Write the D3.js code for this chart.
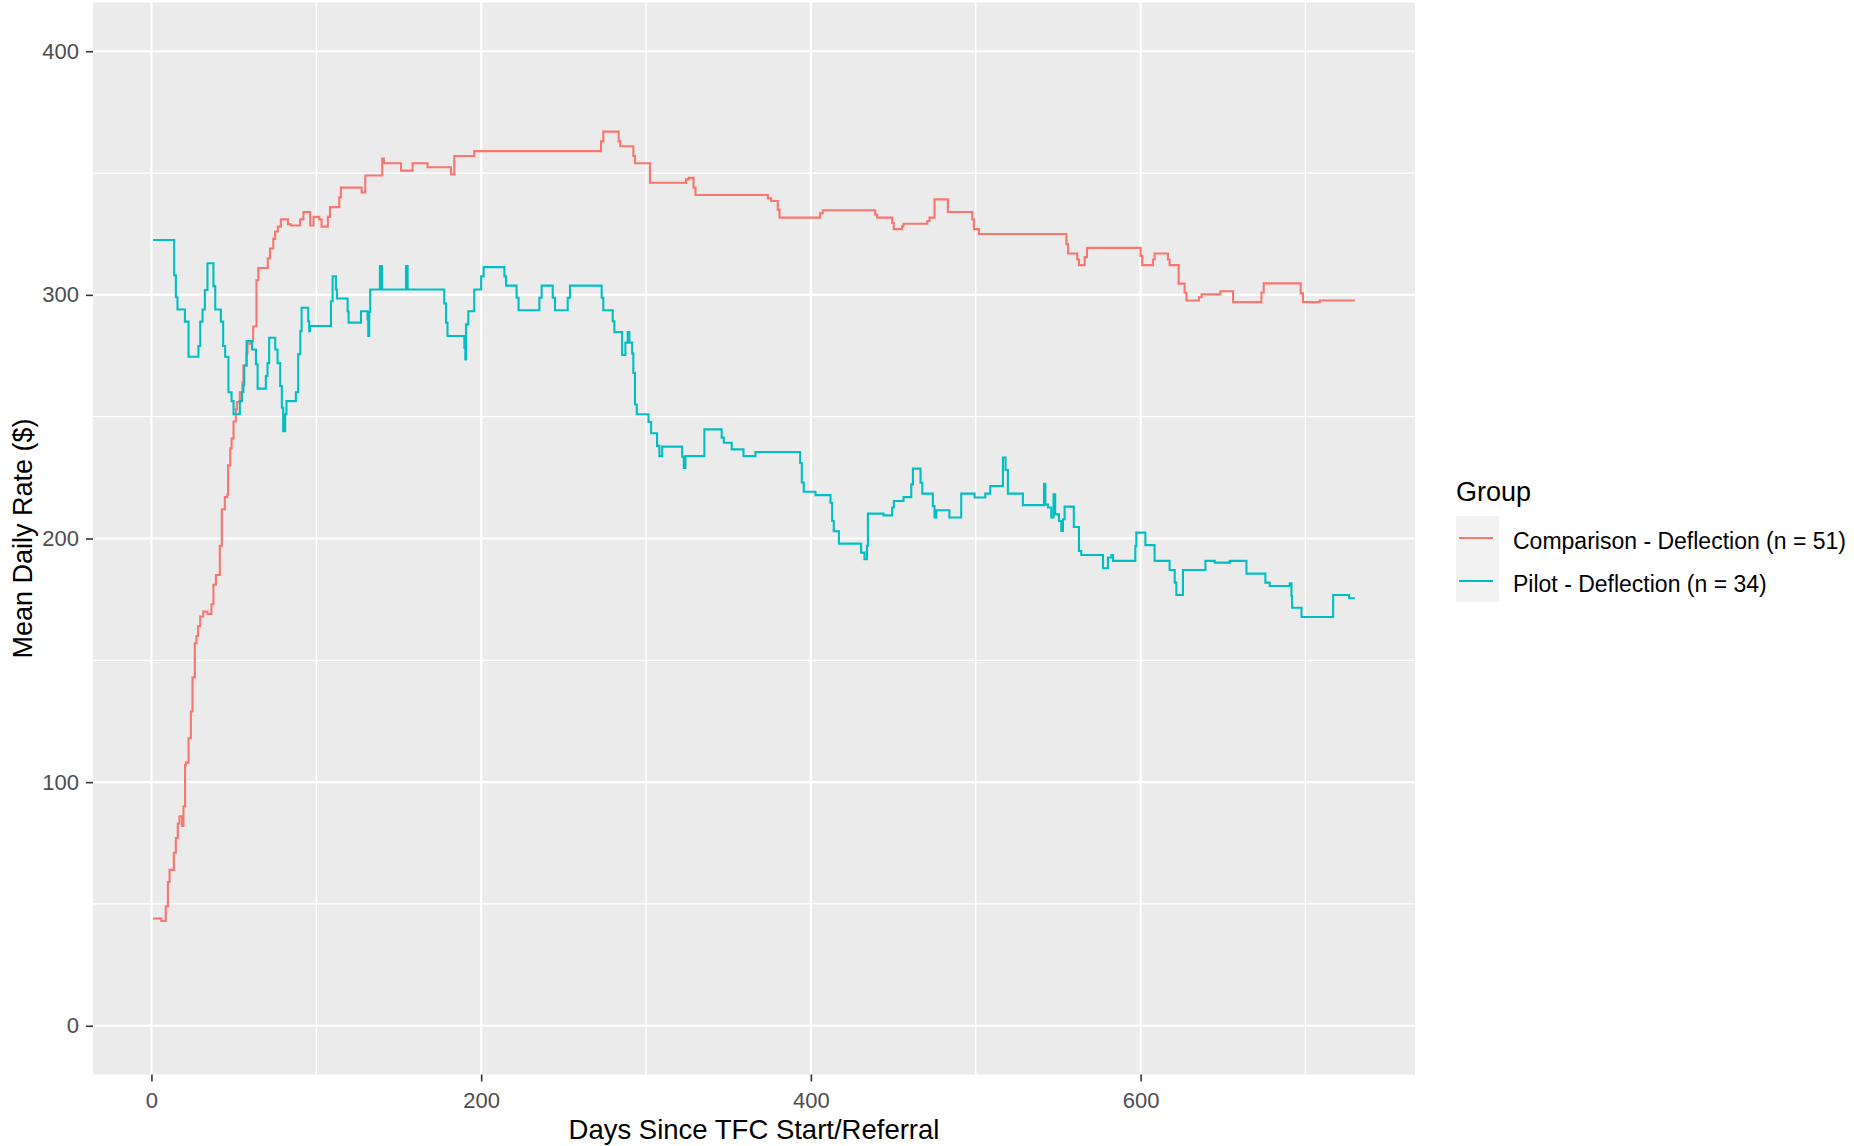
<!DOCTYPE html>
<html>
<head>
<meta charset="utf-8">
<script src="https://cdn.jsdelivr.net/npm/d3@7"></script>
<style>
  html, body { margin: 0; padding: 0; background: #fff; }
  svg { display: block; font-family: "Liberation Sans", Arial, sans-serif; }
</style>
</head>
<body>
<div id="chart"></div>
<script>
// Mean daily rate by days since TFC start/referral, step lines per group.

const GROUPS = ['Comparison - Deflection (n = 51)', 'Pilot - Deflection (n = 34)'];
const GROUP_COLORS = ['#F8766D', '#00BFC4'];

// [day, mean daily rate] at each change point (step holds until next day listed)
const comparisonSteps = [
  [1, 44], [6, 43], [8.7, 49], [10, 59], [11, 64], [13.6, 71], [14.8, 77], [16, 83],
  [17, 86], [18.6, 82], [19.4, 90], [20.4, 107], [20.9, 108], [22.5, 118], [23.9, 129],
  [24.9, 143], [26.3, 157], [27.3, 160], [28.3, 164], [29.6, 168], [31.4, 170], [34, 169],
  [36.4, 173], [37.6, 181], [39.1, 185], [41.5, 197], [42.7, 212], [44.5, 217], [46.1, 218],
  [46.5, 230], [47.8, 237], [48.6, 241], [49.8, 248], [51.2, 253], [51.8, 256], [53.6, 260],
  [55.2, 264], [55.8, 271], [57.7, 276], [58.3, 280], [60.7, 281], [61.7, 287], [63.7, 306],
  [64.8, 311], [70.6, 315], [71.9, 319], [73.9, 323], [75, 326], [76.7, 328], [78.5, 331],
  [82.8, 329], [84.6, 328.5], [90.2, 331], [92.2, 334], [96.3, 328.5], [98.3, 332],
  [101.8, 331], [103.2, 328], [107, 332], [108.3, 336], [113.9, 340], [114.9, 344],
  [127.5, 342], [129.7, 349], [140, 356], [141, 354], [151.4, 351], [158.4, 354],
  [167.5, 352.4], [181.7, 349.4], [183.7, 357], [195.8, 359], [272.7, 363], [274.1, 367],
  [283.4, 363], [284.4, 361], [292.3, 357], [293.3, 354], [302.4, 346], [324.3, 347.4],
  [325.9, 348], [328.8, 344], [330, 341], [373.9, 339.6], [375.9, 338.5], [379.9, 335],
  [381, 331.7], [405.6, 333.5], [407.2, 334.7], [439, 333], [440.2, 331.7], [449.3, 329.6],
  [450.3, 327], [455.4, 328.2], [456.2, 329.2], [470.6, 330.3], [472, 331.7], [475, 339.2],
  [483.1, 334], [497.9, 331], [498.9, 327], [501.9, 325], [555, 320.8], [556, 317],
  [561.6, 314.5], [562.6, 312.2], [566.1, 315.5], [567.5, 319.3], [600, 316], [601, 312.2],
  [607.5, 314.5], [608.5, 317], [616.6, 314.5], [617.6, 312.2], [623.1, 304.6],
  [626.7, 301], [627.8, 297.7], [635.4, 299], [637, 300.2], [648.4, 301.5], [656.1, 297],
  [673.3, 301], [674.7, 304.7], [697.1, 300.6], [698.5, 297], [708.7, 297.7], [730, 297.7]
];

const pilotSteps = [
  [1, 322.5], [13.8, 308], [14.8, 299], [15.8, 294], [20.3, 289], [22.5, 274.6],
  [28.5, 279], [29.6, 289], [31, 294], [32.4, 302], [34, 313], [37.6, 303.6], [38.7, 294],
  [42.1, 289], [43.5, 279], [44.7, 274.6], [46.7, 260], [48.6, 256.4], [49.8, 251],
  [53.6, 256.4], [54.9, 260], [55.8, 263], [56.3, 271], [57.7, 281], [61, 277.6],
  [63.4, 271.5], [64.4, 261.5], [69.4, 266.7], [70.4, 272], [71.4, 282.4], [75.1, 277.6],
  [76.5, 272], [78.1, 262.6], [79.1, 253.7], [79.9, 244], [81.1, 251], [81.9, 256.4],
  [87.6, 260], [89, 275.6], [90.3, 285.1], [91.1, 294.7], [95.1, 289.2], [95.7, 285.1],
  [96.1, 287.2], [108.9, 297.4], [109.9, 307.6], [111.9, 302.2], [112.5, 298.5],
  [119, 293.3], [119.6, 288.6], [127.1, 293.3], [131.1, 289.9], [131.5, 283.1],
  [132.1, 293], [132.7, 302.2], [138.6, 311.8], [139.8, 302.2], [154.4, 311.8],
  [155.4, 302.2], [177.6, 296.5], [178.7, 288.6], [179.6, 283.1], [189.8, 278.3],
  [190.4, 273.5], [190.8, 287.9], [192.2, 293.3], [195.8, 302.2], [200, 307.6],
  [201.5, 311.4], [214.1, 307.6], [215.1, 303.8], [221.5, 298.8], [222.7, 293.7],
  [235.3, 298.8], [236.7, 303.8], [243.4, 298.8], [244.8, 293.7], [252.5, 298.8],
  [253.9, 303.8], [273.1, 298.8], [274.1, 293.7], [279.8, 289.2], [280.8, 284.7],
  [285.5, 275.3], [287.5, 280.4], [288.9, 284.7], [289.9, 280.4], [291.6, 276],
  [292.3, 268], [293.3, 255], [294.4, 251], [301.5, 247.8], [303.1, 243.2], [306.7, 238],
  [308.1, 233.8], [309.8, 237.7], [321.9, 233.6], [322.9, 229], [323.9, 233.8],
  [335.4, 244.8], [345.9, 241.4], [347.2, 239.3], [352, 236.6], [359.1, 233.8],
  [366.4, 235.5], [393.5, 231], [394.5, 223], [395.7, 219.2], [402.8, 217.8],
  [411.9, 214.7], [412.9, 207.2], [413.9, 203], [417, 197.9], [430.5, 194.2],
  [432.5, 191.5], [434, 197], [434.6, 210.2], [444.1, 209.5], [449.3, 212.7],
  [450.3, 215.4], [456.2, 217], [460.9, 222.2], [461.9, 228.7], [466.5, 222.9],
  [467.6, 218.4], [474, 213.3], [475, 208.6], [476.1, 211.6], [484, 208.6],
  [491.2, 218.4], [499.3, 216.8], [505.8, 218.4], [508.8, 221.5], [516.5, 233.2],
  [518.1, 228.1], [519.5, 218.4], [528.6, 213.7], [541.4, 222.5], [542.2, 213.9],
  [543.8, 212.7], [545.8, 208.6], [547.2, 218.1], [548.2, 209.9], [550.5, 207.2],
  [551.9, 203.1], [552.9, 207.9], [553.9, 213.1], [559.5, 204.7], [562.6, 194.9],
  [564, 193.2], [577.2, 187.8], [580.2, 192.2], [582.3, 193.2], [583.3, 190.8],
  [596.8, 196.9], [597.4, 202.4], [602.9, 197.3], [608.5, 190.8], [617.6, 187.1],
  [620.7, 181.9], [621.7, 176.8], [625.7, 187.1], [639.3, 190.8], [645, 190.1],
  [654.1, 190.8], [664.2, 185.6], [675.7, 181.9], [678.3, 180.5], [690.5, 181.6],
  [691.5, 176.4], [691.9, 171.6], [697.6, 167.8], [716.8, 176.8], [726.5, 175.5],
  [730, 175.5]
];

const X_TICKS = [0, 200, 400, 600];
const X_MINOR = [100, 300, 500, 700];
const Y_TICKS = [0, 100, 200, 300, 400];
const Y_MINOR = [50, 150, 250, 350];
const Y_LIMITS = [0, 400];

const X_TITLE = 'Days Since TFC Start/Referral';
const Y_TITLE = 'Mean Daily Rate ($)';
const LEGEND_TITLE = 'Group';

const WIDTH = 1854;
const HEIGHT = 1146;
const PANEL = { left: 93, top: 2.5, right: 1415, bottom: 1074.5 };

const seriesList = [comparisonSteps, pilotSteps];

// ggplot-style 5% expansion on each side
function expand([lo, hi], mult = 0.05) {
  const pad = (hi - lo) * mult;
  return [lo - pad, hi + pad];
}

const svg = d3.select('#chart')
  .append('svg')
  .attr('width', WIDTH)
  .attr('height', HEIGHT);

svg.append('rect')
  .attr('width', WIDTH)
  .attr('height', HEIGHT)
  .attr('fill', '#fff');

const allDays = seriesList.flat().map(d => d[0]);
const x = d3.scaleLinear()
  .domain(expand(d3.extent(allDays)))
  .range([PANEL.left, PANEL.right]);
const y = d3.scaleLinear()
  .domain(expand(Y_LIMITS))
  .range([PANEL.bottom, PANEL.top]);

// panel background
svg.append('rect')
  .attr('x', PANEL.left)
  .attr('y', PANEL.top)
  .attr('width', PANEL.right - PANEL.left)
  .attr('height', PANEL.bottom - PANEL.top)
  .attr('fill', '#EBEBEB');

const grid = svg.append('g');

grid.selectAll('.minor-x')
  .data(X_MINOR)
  .join('line')
  .attr('x1', d => x(d)).attr('x2', d => x(d))
  .attr('y1', PANEL.top).attr('y2', PANEL.bottom)
  .attr('stroke', '#fff').attr('stroke-width', 1.3);

grid.selectAll('.minor-y')
  .data(Y_MINOR)
  .join('line')
  .attr('y1', d => y(d)).attr('y2', d => y(d))
  .attr('x1', PANEL.left).attr('x2', PANEL.right)
  .attr('stroke', '#fff').attr('stroke-width', 1.3);

grid.selectAll('.major-x')
  .data(X_TICKS)
  .join('line')
  .attr('x1', d => x(d)).attr('x2', d => x(d))
  .attr('y1', PANEL.top).attr('y2', PANEL.bottom)
  .attr('stroke', '#fff').attr('stroke-width', 2.2);

grid.selectAll('.major-y')
  .data(Y_TICKS)
  .join('line')
  .attr('y1', d => y(d)).attr('y2', d => y(d))
  .attr('x1', PANEL.left).attr('x2', PANEL.right)
  .attr('stroke', '#fff').attr('stroke-width', 2.2);

// step lines
const stepLine = d3.line()
  .x(d => x(d[0]))
  .y(d => y(d[1]))
  .curve(d3.curveStepAfter);

seriesList.forEach((s, i) => {
  svg.append('path')
    .datum(s)
    .attr('fill', 'none')
    .attr('stroke', GROUP_COLORS[i])
    .attr('stroke-width', 2.1)
    .attr('d', stepLine);
});

// axes
const xAxis = svg.append('g')
  .attr('transform', `translate(0,${PANEL.bottom})`)
  .call(d3.axisBottom(x).tickValues(X_TICKS).tickSize(7).tickPadding(11).tickSizeOuter(0));
const yAxis = svg.append('g')
  .attr('transform', `translate(${PANEL.left},0)`)
  .call(d3.axisLeft(y).tickValues(Y_TICKS).tickSize(7).tickPadding(7).tickSizeOuter(0));

[xAxis, yAxis].forEach(g => {
  g.select('.domain').remove();
  g.selectAll('.tick line').attr('stroke', '#333333').attr('stroke-width', 1.6);
  g.selectAll('.tick text')
    .attr('fill', '#4D4D4D')
    .attr('font-size', '22px')
    .attr('font-family', '"Liberation Sans", Arial, sans-serif');
});
xAxis.selectAll('.tick text').attr('dy', '0.71em');

svg.append('text')
  .attr('x', (PANEL.left + PANEL.right) / 2)
  .attr('y', 1139)
  .attr('text-anchor', 'middle')
  .attr('font-size', '27.5px')
  .attr('fill', '#000')
  .text(X_TITLE);

svg.append('text')
  .attr('transform', `translate(32,${(PANEL.top + PANEL.bottom) / 2}) rotate(-90)`)
  .attr('text-anchor', 'middle')
  .attr('font-size', '27px')
  .attr('fill', '#000')
  .text(Y_TITLE);

// legend
const legend = svg.append('g').attr('transform', 'translate(1456,0)');
legend.append('text')
  .attr('x', 0)
  .attr('y', 501)
  .attr('font-size', '27px')
  .attr('fill', '#000')
  .text(LEGEND_TITLE);

GROUPS.forEach((g, i) => {
  const row = legend.append('g').attr('transform', `translate(0,${516 + i * 43})`);
  row.append('rect')
    .attr('width', 43)
    .attr('height', 43)
    .attr('fill', '#F2F2F2');
  row.append('line')
    .attr('x1', 3).attr('x2', 37)
    .attr('y1', 22).attr('y2', 22)
    .attr('stroke', GROUP_COLORS[i])
    .attr('stroke-width', 2.1);
  row.append('text')
    .attr('x', 57)
    .attr('y', 33)
    .attr('font-size', '23px')
    .attr('fill', '#000')
    .text(g);
});
</script>
</body>
</html>
